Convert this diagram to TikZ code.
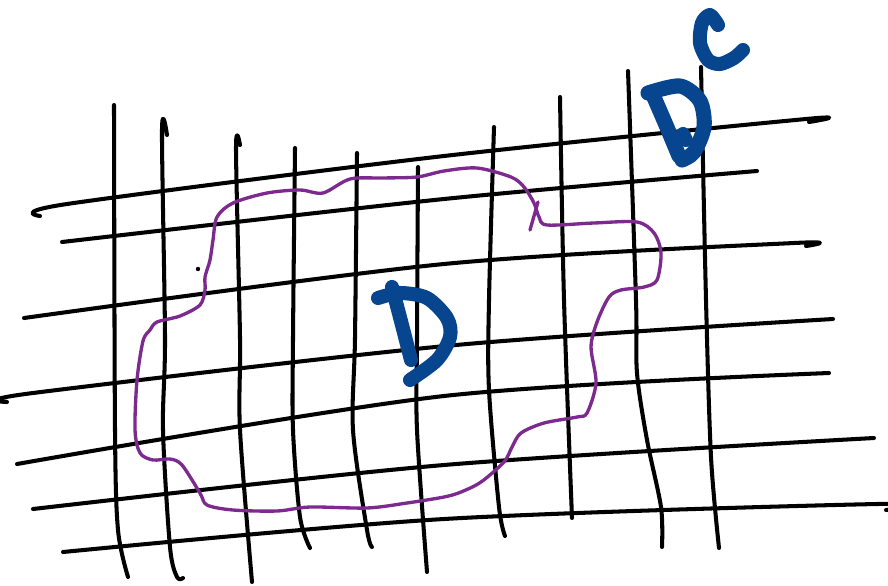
\documentclass[tikz,border=0pt]{standalone}
\usepackage{xcolor}
\definecolor{penblue}{HTML}{07468F}
\definecolor{penpurple}{HTML}{7D2A8E}

\begin{document}
\begin{tikzpicture}[
  x=0.02cm,y=-0.02cm,
  gridline/.style={draw=black,line width=2.3pt,line cap=round,line join=round},
  region/.style={draw=penpurple,line width=1.9pt,line cap=round,line join=round},
  letter/.style={draw=penblue,line width=8pt,line cap=round,line join=round},
]
\useasboundingbox (0,0) rectangle (888,585);

% horizontal strokes
\draw[gridline] plot[smooth] coordinates {(40,216) (67,204) (444,156) (806,119) (809,122)};
\draw[gridline] plot[smooth] coordinates {(62,242) (444,199) (757,171)};
\draw[gridline] plot[smooth] coordinates {(24,318) (444,264) (794,243) (806,246)};
\draw[gridline] plot[smooth] coordinates {(7,402) (33,393) (456,345) (833,319)};
\draw[gridline] plot[smooth] coordinates {(17,464) (444,396) (829,373)};
\draw[gridline] plot[smooth] coordinates {(33,509) (444,465) (874,438)};
\draw[gridline] plot[smooth] coordinates {(63,552) (444,519) (877,504) (886,510)};

% vertical strokes
\draw[gridline] plot[smooth] coordinates {(114,105) (115,430) (118,530) (128,577)};
\draw[gridline] plot[smooth] coordinates {(167,135) (162,130) (165,338) (163,430) (170,547) (177,577) (183,578)};
\draw[gridline] plot[smooth] coordinates {(240,145) (236,148) (240,338) (240,430) (252,582)};
\draw[gridline] plot[smooth] coordinates {(295,148) (293,338) (293,430) (300,517) (310,548)};
\draw[gridline] plot[smooth] coordinates {(357,153) (355,338) (353,430) (367,530) (372,547)};
\draw[gridline] plot[smooth] coordinates {(418,167) (417,338) (417,430) (427,572)};
\draw[gridline] plot[smooth] coordinates {(494,127) (489,300) (489,390) (499,507) (505,536)};
\draw[gridline] plot[smooth] coordinates {(560,97) (564,300) (572,518)};
\draw[gridline] plot[smooth] coordinates {(628,71) (636,300) (637,373) (647,440) (661,507) (662,547)};
\draw[gridline] plot[smooth] coordinates {(701,67) (706,300) (711,457) (719,548)};
\fill (198,269) circle (2.2);

% the region D
\draw[region] plot[smooth cycle] coordinates {
  (157,322) (180,316) (200,305) (205,290) (205,277) (210,260) (213,240) (217,217)
  (233,203) (267,193) (300,190) (323,193) (350,179) (383,178) (417,177) (444,171)
  (477,168) (511,177) (524,187) (534,203) (539,217) (547,225) (594,223) (637,222)
  (654,233) (661,253) (657,280) (644,287) (621,290) (609,297) (597,322) (591,347)
  (596,383) (587,413) (577,417) (544,423) (521,433) (512,447) (504,462) (481,482)
  (461,492) (444,497) (407,503) (367,508) (310,507) (277,511) (233,510) (207,505)
  (200,493) (182,465) (170,459) (153,460) (140,453) (135,430) (137,380) (143,341)
  (150,330)};
\draw[region] (538,202) -- (530,230);

% letters
\draw[letter] plot[smooth] coordinates {(392,287) (402,325) (411,360)};
\draw[letter] plot[smooth] coordinates {(378,298) (400,293) (427,298) (447,318) (450,337) (437,360) (410,380)};
\draw[letter,line width=8.6pt] plot[smooth] coordinates {(653,95) (666,125) (679,156)};
\draw[letter,line width=8.6pt] plot[smooth] coordinates {(648,93) (680,86) (700,101) (704,127) (694,152) (682,160)};
\draw[letter] (683,134) -- (686,140);
\draw[letter] plot[smooth] coordinates {(718,25) (710,15) (702,23) (700,43) (708,60) (720,64) (734,58) (743,50)};

\end{tikzpicture}
\end{document}
